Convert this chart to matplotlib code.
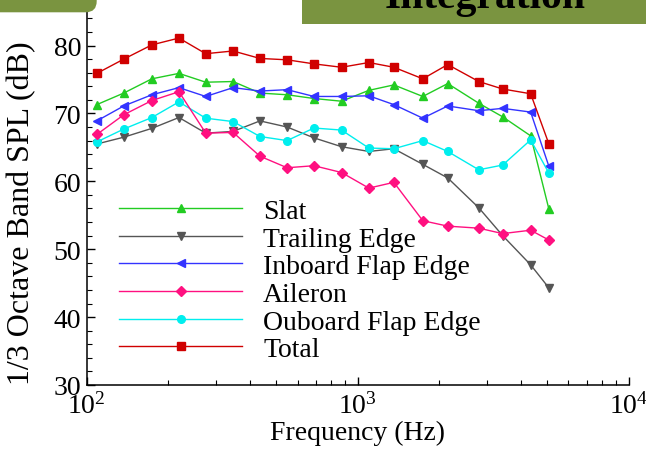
import matplotlib
matplotlib.use('Agg')
import matplotlib.pyplot as plt
from matplotlib.patches import FancyBboxPatch, Rectangle
from matplotlib.transforms import IdentityTransform
from matplotlib.ticker import LogLocator, MultipleLocator

# 1/3 octave band centre frequencies (Hz)
freqs = [109, 137, 174, 219, 275, 347, 436, 549, 690, 872,
         1100, 1360, 1740, 2150, 2800, 3430, 4350, 5080]

slat = [71.3, 73.0, 75.1, 75.9, 74.6, 74.7, 73.0, 72.75, 72.2, 71.8,
        73.4, 74.2, 72.5, 74.4, 71.5, 69.5, 66.7, 55.9]
trailing = [65.5, 66.5, 67.8, 69.4, 67.1, 67.35, 68.9, 68.0, 66.4, 65.1,
            64.4, 64.8, 62.5, 60.5, 56.1, 52.0, 47.7, 44.3]
inboard = [68.9, 71.1, 72.75, 73.8, 72.5, 73.8, 73.3, 73.5, 72.5, 72.5,
           72.6, 71.3, 69.3, 71.1, 70.4, 70.75, 70.2, 62.2]
aileron = [66.9, 69.8, 71.9, 73.2, 67.1, 67.2, 63.7, 62.0, 62.3, 61.3,
           59.0, 59.85, 54.2, 53.4, 53.1, 52.3, 52.8, 51.35]
outboard = [65.8, 67.7, 69.4, 71.7, 69.3, 68.8, 66.6, 66.0, 67.85, 67.55,
            64.9, 64.8, 66.0, 64.4, 61.7, 62.4, 66.1, 61.2]
total = [75.9, 78.0, 80.1, 81.1, 78.8, 79.2, 78.1, 77.9, 77.3, 76.8,
         77.5, 76.8, 75.1, 77.2, 74.7, 73.6, 72.9, 65.5]

labels = ['Slat', 'Trailing Edge', 'Inboard Flap Edge', 'Aileron',
          'Ouboard Flap Edge', 'Total']

plt.rcParams['font.family'] = ['Liberation Serif', 'DejaVu Serif']
plt.rcParams['mathtext.fontset'] = 'custom'
plt.rcParams['mathtext.rm'] = 'Liberation Serif'

W, H = 646, 452
fs = 20
fig = plt.figure(figsize=(W / 100, H / 100), dpi=100)
# axes box in pixels: left 86.7, right 628.6, bottom y=386, top y=12.6
ax = fig.add_axes([86.7 / W, (H - 386) / H, (628.6 - 86.7) / W, (386 - 12.6) / H])

series = [
    (slat, '#22cc22', '^'),
    (trailing, '#555555', 'v'),
    (inboard, '#3333ff', '<'),
    (outboard, '#00eeee', 'o'),
    (aileron, '#ff1080', 'D'),
    (total, '#d00000', 's'),
]
order = [0, 1, 2, 4, 3, 5]  # legend order
handles = []
for vals, col, mk in series:
    ms = 5.5 if mk != 'D' else 4.8
    h, = ax.plot(freqs, vals, color=col, lw=1.0, marker=mk, ms=ms,
                 markeredgecolor=col, markerfacecolor=col)
    handles.append(h)

ax.set_xscale('log')
ax.set_xlim(100, 10000)
ax.set_ylim(30, 85)
ax.yaxis.set_major_locator(MultipleLocator(10))
ax.yaxis.set_minor_locator(MultipleLocator(2))
ax.xaxis.set_major_locator(LogLocator(base=10))
ax.xaxis.set_minor_locator(LogLocator(base=10, subs=range(2, 10)))
ax.set_yticks([30, 40, 50, 60, 70, 80])

for s in ['top', 'right']:
    ax.spines[s].set_visible(False)
for s in ['left', 'bottom']:
    ax.spines[s].set_linewidth(1.1)

ax.tick_params(which='major', direction='in', length=6, width=1.0,
               labelsize=fs, pad=4)
ax.tick_params(which='minor', direction='in', length=3.5, width=0.8)
ax.tick_params(axis='x', which='major', pad=5)

ax.set_xlabel('Frequency (Hz)', fontsize=fs, labelpad=1)
fig.text(22 / W, (H - 213) / H, '1/3 Octave Band SPL (dB)', fontsize=23,
         rotation=90, ha='center', va='center')

leg = ax.legend([handles[i] for i in order], labels, loc='upper left',
                bbox_to_anchor=(119 / W, (H - 199.4) / H),
                bbox_transform=fig.transFigure, frameon=False, numpoints=1,
                fontsize=fs, handlelength=4.43, handletextpad=0.76,
                labelspacing=0.08, borderpad=0, borderaxespad=0)

# slide decorations
green = '#7a9440'
fig.patches.append(FancyBboxPatch((-40, H - 13.3), 136.7, 60,
                                  boxstyle='round,pad=0,rounding_size=11',
                                  facecolor=green, edgecolor='none',
                                  transform=IdentityTransform(), figure=fig))
fig.patches.append(Rectangle((301.7, H - 25), W - 301.7, 30, facecolor=green,
                             edgecolor='none', transform=IdentityTransform(),
                             figure=fig))
fig.text(485 / W, (H - 8.3) / H, 'Integration', fontsize=30, fontweight='bold',
         ha='center', va='baseline', color='black')

fig.savefig('out.png', dpi=100)
